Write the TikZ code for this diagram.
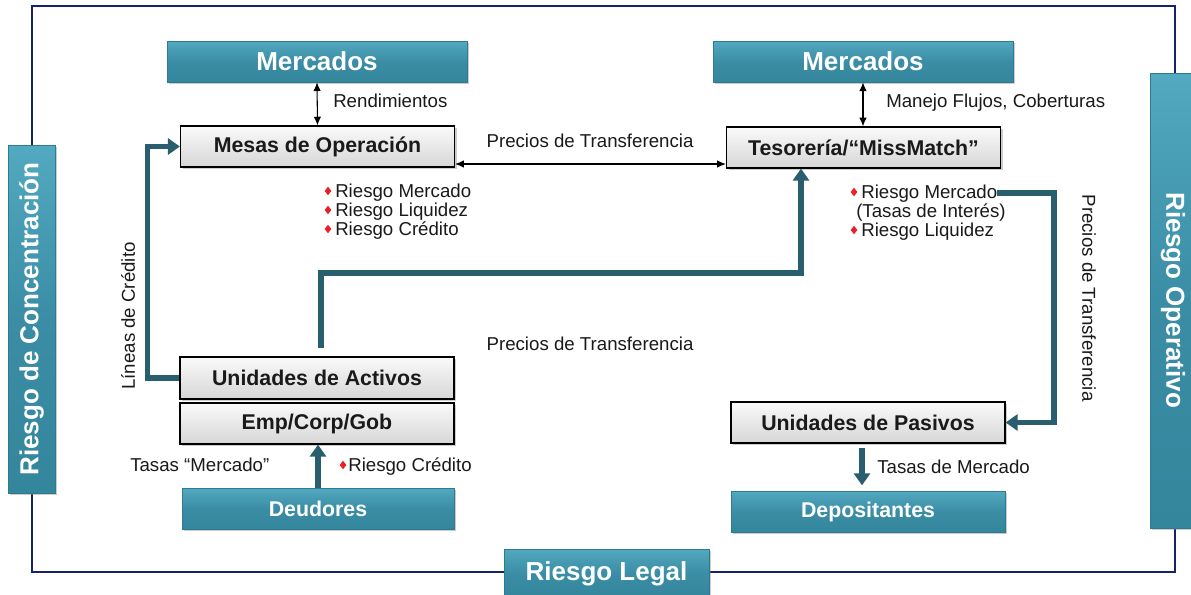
\documentclass[tikz,border=0pt]{standalone}
\usepackage{fontspec}
\setmainfont{Liberation Sans}
\usetikzlibrary{arrows.meta,shadows,shapes.geometric,calc}
\definecolor{tealbox}{HTML}{3A8DA4}
\definecolor{tealtop}{HTML}{52A9C0}
\definecolor{tealbot}{HTML}{34869D}
\definecolor{tealedge}{HTML}{2F7A90}
\definecolor{arrowteal}{HTML}{285E6D}
\definecolor{navyframe}{HTML}{16236B}
\definecolor{bulletred}{HTML}{E8202A}
\definecolor{textdark}{HTML}{1A1A1A}
\begin{document}
\begin{tikzpicture}[x=0.75pt,y=-0.75pt,
 boxshadow/.style={drop shadow={shadow xshift=1.5pt,shadow yshift=-1.5pt,opacity=0.4}},
 tealnode/.style={draw=tealedge, line width=0.5pt, top color=tealtop, bottom color=tealbot, middle color=tealbox, text=white, font=\bfseries\fontsize{19.5}{22}\selectfont, inner sep=0pt, boxshadow},
 tealsmall/.style={tealnode, font=\bfseries\fontsize{16}{19}\selectfont},
 graynode/.style={draw=black, line width=0.9pt, top color=gray!4, bottom color=gray!32, text=textdark, font=\bfseries\fontsize{16}{19}\selectfont, inner sep=0pt, minimum width=205.5pt, minimum height=30.75pt, boxshadow},
 lbl/.style={font=\fontsize{14}{16}\selectfont, text=textdark, inner sep=0pt},
 bul/.style={diamond, fill=bulletred, inner sep=0pt, minimum width=5.2pt, minimum height=6.5pt},
 thinarrow/.style={draw=black, line width=0.8pt, {Latex[length=6.5pt,width=5.5pt]}-{Latex[length=6.5pt,width=5.5pt]}},
 thickarrow/.style={draw=arrowteal, line width=4.2pt, -{Triangle[length=9pt,width=12pt]}},
]
\useasboundingbox (0,0) rectangle (1191,594);
\fill[white] (0,0) rectangle (1191,594);
% frame
\draw[navyframe, line width=1.8pt] (32,6) rectangle (1175,572);

% boxes
\node[tealnode, minimum width=225pt, minimum height=30.75pt] (mercL) at (317,61.5) {Mercados};
\node[tealnode, minimum width=225pt, minimum height=30.75pt] (mercR) at (863,61.5) {Mercados};
\node[graynode] (mesas) at (317.5,146.5) {Mesas de Operación};
\node[graynode] (tes) at (863.5,147.5) {Tesorería/“MissMatch”};
\node[graynode, minimum height=31.5pt] (ua) at (317,378) {Unidades de Activos};
\node[graynode] (emp) at (317,423.5) {Emp/Corp/Gob};
\node[tealsmall, minimum width=204pt, minimum height=30.75pt] (deud) at (318,508.5) {Deudores};
\node[graynode] (up) at (868,422.5) {Unidades de Pasivos};
\node[tealsmall, minimum width=205.5pt, minimum height=30.75pt] (dep) at (868,511.5) {Depositantes};
\node[tealnode, rotate=90, minimum width=261pt, minimum height=35.25pt] (rc) at (31.5,319) {Riesgo de Concentración};
\node[tealnode, rotate=-90, minimum width=341.25pt, minimum height=34.5pt] (ro) at (1173,300.5) {Riesgo Operativo};
\node[tealnode, minimum width=153.75pt, minimum height=36.75pt] (rl) at (606.5,573.5) {Riesgo Legal};

% labels
\node[lbl, anchor=base west] (lrend) at (333,107) {Rendimientos};
\node[lbl, anchor=base west] (lman) at (886,107) {Manejo Flujos, Coberturas};
\node[lbl, anchor=base] (lpt1) at (590,147) {Precios de Transferencia};
\node[lbl, anchor=base] (lpt2) at (590,350) {Precios de Transferencia};

\node[lbl, anchor=base west] (mr1) at (335,197) {Riesgo Mercado};
\node[lbl, anchor=base west] (mr2) at (335,216) {Riesgo Liquidez};
\node[lbl, anchor=base west] (mr3) at (335,235) {Riesgo Crédito};
\node[bul] (mb1) at (328,191) {};
\node[bul] (mb2) at (328,210) {};
\node[bul] (mb3) at (328,229) {};

\node[lbl, anchor=base west] (tr1) at (861,198) {Riesgo Mercado};
\node[lbl, anchor=base west] (tr2) at (856,217) {(Tasas de Interés)};
\node[lbl, anchor=base west] (tr3) at (861,236) {Riesgo Liquidez};
\node[bul] (tb1) at (854,192) {};
\node[bul] (tb3) at (854,230) {};

\node[lbl, anchor=base west] (ltm) at (130,471) {Tasas “Mercado”};
\node[bul] (db) at (343,465) {};
\node[lbl, anchor=base west] (drc) at (348,471) {Riesgo Crédito};
\node[lbl, anchor=base west] (ltdm) at (877,473) {Tasas de Mercado};
\node[lbl, rotate=90] (llc) at (128,316) {Líneas de Crédito};
\node[lbl, rotate=-90] (lpt3) at (1089,298) {Precios de Transferencia};

% thin connectors
\draw[thinarrow] (mercL.south) -- (mesas.north);
\draw[thinarrow] (mercR.south) -- (mercR.south |- tes.north);
\draw[thinarrow] (mesas.east |- 0,164) -- (tes.west |- 0,164);

% thick connectors
\draw[thickarrow] (ua.west) -- ++(-32,0) |- (mesas.west);
\draw[thickarrow, shorten <=6pt] (ua.north -| 321,0) -- (321,273) -| (tes.south -| 801,0);
\draw[thickarrow] (tr1.east) -| (1054,300) |- (up.east);
\draw[thickarrow] (deud.north) -- (deud.north |- emp.south);
\draw[thickarrow, shorten <=3pt, shorten >=4pt] (up.south -| 862,0) -- (dep.north -| 862,0);
\end{tikzpicture}
\end{document}
